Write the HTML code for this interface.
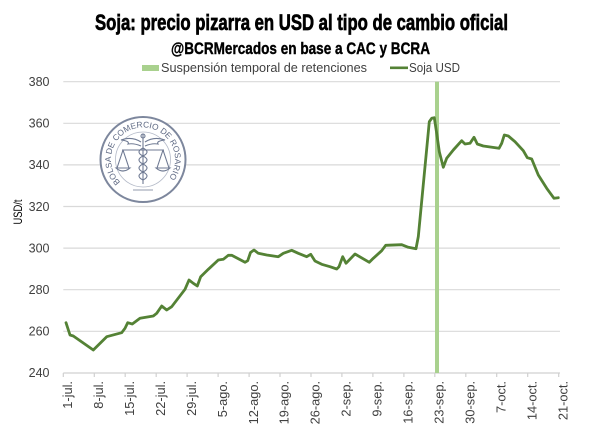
<!DOCTYPE html>
<html><head><meta charset="utf-8"><style>
html,body{margin:0;padding:0;background:#fff;}
svg{display:block;font-family:"Liberation Sans",sans-serif;}
</style></head><body>
<svg width="600" height="434" viewBox="0 0 600 434" xmlns="http://www.w3.org/2000/svg">
<rect width="600" height="434" fill="#fff"/>
<!-- titles -->
<text x="301.5" y="30" font-size="22" font-weight="bold" text-anchor="middle" textLength="413" lengthAdjust="spacingAndGlyphs" fill="#000" stroke="#000" stroke-width="0.7">Soja: precio pizarra en USD al tipo de cambio oficial</text>
<text x="300.5" y="53.8" font-size="17" font-weight="bold" text-anchor="middle" textLength="259" lengthAdjust="spacingAndGlyphs" fill="#000" stroke="#000" stroke-width="0.4">@BCRMercados en base a CAC y BCRA</text>
<!-- legend -->
<rect x="142" y="65" width="17" height="6" fill="#a9d18e"/>
<text x="161" y="72" font-size="12.5" fill="#404040" textLength="206" lengthAdjust="spacingAndGlyphs">Suspensión temporal de retenciones</text>
<line x1="390" y1="67.8" x2="408" y2="67.8" stroke="#548235" stroke-width="2.6"/>
<text x="409" y="72" font-size="12.5" fill="#404040" textLength="51" lengthAdjust="spacingAndGlyphs">Soja USD</text>
<!-- gridlines -->
<g stroke="#d9d9d9" stroke-width="1.2">
<line x1="63.3" y1="81.7" x2="560" y2="81.7"/>
<line x1="63.3" y1="123.3" x2="560" y2="123.3"/>
<line x1="63.3" y1="164.9" x2="560" y2="164.9"/>
<line x1="63.3" y1="206.5" x2="560" y2="206.5"/>
<line x1="63.3" y1="248.1" x2="560" y2="248.1"/>
<line x1="63.3" y1="289.7" x2="560" y2="289.7"/>
<line x1="63.3" y1="331.3" x2="560" y2="331.3"/>
</g>
<!-- axis -->
<g stroke="#d0d0d0" stroke-width="1.2">
<line x1="63.3" y1="373" x2="560" y2="373"/>
<line x1="63.3" y1="373" x2="63.3" y2="377"/>
<line x1="94.3" y1="373" x2="94.3" y2="377"/>
<line x1="125.2" y1="373" x2="125.2" y2="377"/>
<line x1="156.2" y1="373" x2="156.2" y2="377"/>
<line x1="187.1" y1="373" x2="187.1" y2="377"/>
<line x1="218.1" y1="373" x2="218.1" y2="377"/>
<line x1="249.1" y1="373" x2="249.1" y2="377"/>
<line x1="280.0" y1="373" x2="280.0" y2="377"/>
<line x1="311.0" y1="373" x2="311.0" y2="377"/>
<line x1="341.9" y1="373" x2="341.9" y2="377"/>
<line x1="372.9" y1="373" x2="372.9" y2="377"/>
<line x1="403.9" y1="373" x2="403.9" y2="377"/>
<line x1="434.8" y1="373" x2="434.8" y2="377"/>
<line x1="465.8" y1="373" x2="465.8" y2="377"/>
<line x1="496.7" y1="373" x2="496.7" y2="377"/>
<line x1="527.7" y1="373" x2="527.7" y2="377"/>
<line x1="558.7" y1="373" x2="558.7" y2="377"/>
</g>
<!-- watermark -->
<g>
<circle cx="143" cy="159.5" r="42.5" fill="#fff" stroke="#7d879d" stroke-width="2"/>
<circle cx="143" cy="159.5" r="27.5" fill="none" stroke="#b4bac8" stroke-width="0.8"/>
<path id="wm" d="M120.4,182.1 A32,32 0 1 1 165.6,182.1" fill="none"/>
<text font-size="8.4" fill="#5f6a84"><textPath href="#wm">BOLSA DE COMERCIO DE ROSARIO</textPath></text>
<g stroke="#6f7a93" stroke-width="1.1" fill="none">
<line x1="143" y1="134" x2="143" y2="184"/>
<circle cx="143" cy="136" r="2"/>
<path d="M141,142 Q132,136 121,140 Q130,141 128,144 Q134,143 141,146"/>
<path d="M145,142 Q154,136 165,140 Q156,141 158,144 Q152,143 145,146"/>
<line x1="122" y1="150" x2="164" y2="150"/>
<path d="M123,150 L117,168 M123,150 L129,168 M116,168 Q123,174 130,168 Z"/>
<path d="M163,150 L157,168 M163,150 L169,168 M156,168 Q163,174 170,168 Z"/>
<path d="M143,148 Q151,152 143,156 Q135,160 143,164 Q151,168 143,172 Q135,176 143,180"/>
<path d="M143,148 Q135,152 143,156 Q151,160 143,164 Q135,168 143,172 Q151,176 143,180"/>
<line x1="133" y1="190" x2="153" y2="190" stroke-width="0.7"/>
</g>
</g>
<!-- suspension bar -->
<rect x="435" y="81.7" width="4" height="291.3" fill="#a9d18e"/>
<!-- series -->
<polyline fill="none" stroke="#548235" stroke-width="2.8" stroke-linejoin="round" stroke-linecap="round" points="66,322.7 70,335 73.3,336 93.3,350 106.7,336.7 121.7,332.7 125,328.3 127.7,322.7 132.3,324 140,318.3 153.3,316 156.7,313.3 161.7,306 166.7,310 171.7,306.7 185,289.3 189,280 193.3,283.3 197.3,286 200.7,276.7 208.3,269.3 218.3,260 223.3,259.3 228.3,255.3 231.7,255.3 245,262.3 247.7,260.7 250.5,252.5 254,250 258.3,253.3 266.7,255 278.3,256.7 283.3,253.3 291.7,250.3 298.3,253.3 306.7,256.7 310.7,254.3 315,261 321.7,264.3 330,266.7 336.7,269 339,266.7 342.7,256.7 346,263.3 355,254 369.3,262.3 373.3,258.3 381.7,250.7 385.7,245.3 401.7,244.7 408.3,247.3 416,248.7 418.3,236.7 429.3,121.7 431.7,118.3 434.3,117.7 436.7,133.3 439.3,151.7 443.3,167.3 446.7,158.3 453.3,150 461.7,140.7 465,144 470,143.3 474,137.3 477.3,144 483.3,146 499,148.3 501.7,143.3 504.3,135 508.3,136 515,141.7 523.3,150.7 527.3,157.7 531.7,159 538.3,175 546.7,188.3 554,198.3 558.3,197.7"/>
<!-- y labels -->
<g font-size="12.5" fill="#404040" text-anchor="end">
<text x="49.5" y="86">380</text>
<text x="49.5" y="127.6">360</text>
<text x="49.5" y="169.2">340</text>
<text x="49.5" y="210.8">320</text>
<text x="49.5" y="252.4">300</text>
<text x="49.5" y="294">280</text>
<text x="49.5" y="335.6">260</text>
<text x="49.5" y="377.2">240</text>
</g>
<text transform="translate(22,212) rotate(-90)" font-size="12" fill="#000" text-anchor="middle" textLength="25" lengthAdjust="spacingAndGlyphs">USD/t</text>
<!-- x labels -->
<g font-size="12.8" fill="#404040" text-anchor="end">
<text transform="translate(72,381) rotate(-90)">1-jul.</text>
<text transform="translate(103,381) rotate(-90)">8-jul.</text>
<text transform="translate(133.9,381) rotate(-90)">15-jul.</text>
<text transform="translate(164.9,381) rotate(-90)">22-jul.</text>
<text transform="translate(195.8,381) rotate(-90)">29-jul.</text>
<text transform="translate(226.8,381) rotate(-90)">5-ago.</text>
<text transform="translate(257.8,381) rotate(-90)">12-ago.</text>
<text transform="translate(288.7,381) rotate(-90)">19-ago.</text>
<text transform="translate(319.7,381) rotate(-90)">26-ago.</text>
<text transform="translate(350.6,381) rotate(-90)">2-sep.</text>
<text transform="translate(381.6,381) rotate(-90)">9-sep.</text>
<text transform="translate(412.6,381) rotate(-90)">16-sep.</text>
<text transform="translate(443.5,381) rotate(-90)">23-sep.</text>
<text transform="translate(474.5,381) rotate(-90)">30-sep.</text>
<text transform="translate(505.4,381) rotate(-90)">7-oct.</text>
<text transform="translate(536.4,381) rotate(-90)">14-oct.</text>
<text transform="translate(567.4,381) rotate(-90)">21-oct.</text>
</g>
</svg>
</body></html>
